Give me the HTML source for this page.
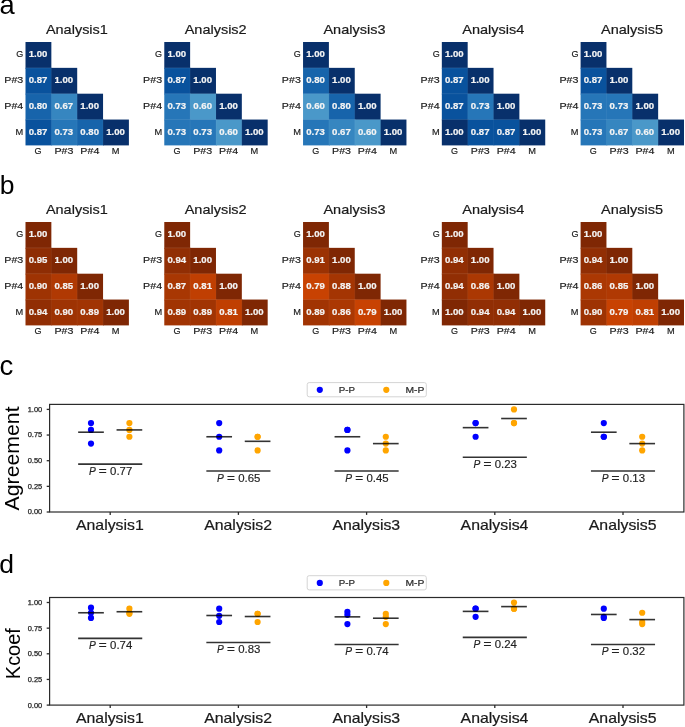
<!DOCTYPE html>
<html><head><meta charset="utf-8"><title>Figure</title>
<style>
html,body{margin:0;padding:0;background:#fff;}
body{width:685px;height:727px;overflow:hidden;}
svg{display:block;font-family:"Liberation Sans", sans-serif;will-change:transform;}
</style></head>
<body>
<svg width="685" height="727" viewBox="0 0 685 727">
<rect width="685" height="727" fill="#fff"/>
<text x="76.90" y="33.80" font-size="13.5" text-anchor="middle" fill="#1a1a1a" textLength="62.0" lengthAdjust="spacingAndGlyphs" stroke="#1a1a1a" stroke-width="0.2">Analysis1</text>
<rect x="25.50" y="42.00" width="25.85" height="26.65" fill="#08306b"/>
<rect x="25.50" y="67.85" width="26.65" height="26.65" fill="#09529d"/>
<rect x="51.35" y="67.85" width="25.85" height="26.65" fill="#08306b"/>
<rect x="25.50" y="93.70" width="26.65" height="26.65" fill="#1764ab"/>
<rect x="51.35" y="93.70" width="26.65" height="26.65" fill="#3686c0"/>
<rect x="77.20" y="93.70" width="25.85" height="26.65" fill="#08306b"/>
<rect x="25.50" y="119.55" width="26.65" height="25.85" fill="#09529d"/>
<rect x="51.35" y="119.55" width="26.65" height="25.85" fill="#2676b8"/>
<rect x="77.20" y="119.55" width="26.65" height="25.85" fill="#1764ab"/>
<rect x="103.05" y="119.55" width="25.85" height="25.85" fill="#08306b"/>
<line x1="25.50" y1="67.85" x2="51.35" y2="67.85" stroke="#fff" stroke-opacity="0.10" stroke-width="1"/>
<line x1="25.50" y1="93.70" x2="77.20" y2="93.70" stroke="#fff" stroke-opacity="0.10" stroke-width="1"/>
<line x1="25.50" y1="119.55" x2="103.05" y2="119.55" stroke="#fff" stroke-opacity="0.10" stroke-width="1"/>
<line x1="51.35" y1="67.85" x2="51.35" y2="145.40" stroke="#fff" stroke-opacity="0.05" stroke-width="1"/>
<line x1="77.20" y1="93.70" x2="77.20" y2="145.40" stroke="#fff" stroke-opacity="0.05" stroke-width="1"/>
<line x1="103.05" y1="119.55" x2="103.05" y2="145.40" stroke="#fff" stroke-opacity="0.05" stroke-width="1"/>
<text x="38.02" y="57.07" font-size="8.9" text-anchor="middle" fill="#f4f4f4" font-weight="bold" textLength="18.7" lengthAdjust="spacingAndGlyphs" stroke="#f4f4f4" stroke-width="0.2">1.00</text>
<text x="38.02" y="82.92" font-size="8.9" text-anchor="middle" fill="#f4f4f4" font-weight="bold" textLength="18.7" lengthAdjust="spacingAndGlyphs" stroke="#f4f4f4" stroke-width="0.2">0.87</text>
<text x="63.88" y="82.92" font-size="8.9" text-anchor="middle" fill="#f4f4f4" font-weight="bold" textLength="18.7" lengthAdjust="spacingAndGlyphs" stroke="#f4f4f4" stroke-width="0.2">1.00</text>
<text x="38.02" y="108.78" font-size="8.9" text-anchor="middle" fill="#f4f4f4" font-weight="bold" textLength="18.7" lengthAdjust="spacingAndGlyphs" stroke="#f4f4f4" stroke-width="0.2">0.80</text>
<text x="63.88" y="108.78" font-size="8.9" text-anchor="middle" fill="#f4f4f4" font-weight="bold" textLength="18.7" lengthAdjust="spacingAndGlyphs" stroke="#f4f4f4" stroke-width="0.2">0.67</text>
<text x="89.72" y="108.78" font-size="8.9" text-anchor="middle" fill="#f4f4f4" font-weight="bold" textLength="18.7" lengthAdjust="spacingAndGlyphs" stroke="#f4f4f4" stroke-width="0.2">1.00</text>
<text x="38.02" y="134.63" font-size="8.9" text-anchor="middle" fill="#f4f4f4" font-weight="bold" textLength="18.7" lengthAdjust="spacingAndGlyphs" stroke="#f4f4f4" stroke-width="0.2">0.87</text>
<text x="63.88" y="134.63" font-size="8.9" text-anchor="middle" fill="#f4f4f4" font-weight="bold" textLength="18.7" lengthAdjust="spacingAndGlyphs" stroke="#f4f4f4" stroke-width="0.2">0.73</text>
<text x="89.72" y="134.63" font-size="8.9" text-anchor="middle" fill="#f4f4f4" font-weight="bold" textLength="18.7" lengthAdjust="spacingAndGlyphs" stroke="#f4f4f4" stroke-width="0.2">0.80</text>
<text x="115.58" y="134.63" font-size="8.9" text-anchor="middle" fill="#f4f4f4" font-weight="bold" textLength="18.7" lengthAdjust="spacingAndGlyphs" stroke="#f4f4f4" stroke-width="0.2">1.00</text>
<text x="23.30" y="57.32" font-size="9.7" text-anchor="end" fill="#1a1a1a" textLength="7.0" lengthAdjust="spacingAndGlyphs" stroke="#1a1a1a" stroke-width="0.18">G</text>
<text x="23.30" y="83.17" font-size="9.7" text-anchor="end" fill="#1a1a1a" textLength="19.0" lengthAdjust="spacingAndGlyphs" stroke="#1a1a1a" stroke-width="0.18">P#3</text>
<text x="23.30" y="109.03" font-size="9.7" text-anchor="end" fill="#1a1a1a" textLength="19.0" lengthAdjust="spacingAndGlyphs" stroke="#1a1a1a" stroke-width="0.18">P#4</text>
<text x="23.30" y="134.88" font-size="9.7" text-anchor="end" fill="#1a1a1a" textLength="7.7" lengthAdjust="spacingAndGlyphs" stroke="#1a1a1a" stroke-width="0.18">M</text>
<text x="38.12" y="154.40" font-size="9.7" text-anchor="middle" fill="#1a1a1a" textLength="7.0" lengthAdjust="spacingAndGlyphs" stroke="#1a1a1a" stroke-width="0.18">G</text>
<text x="63.98" y="154.40" font-size="9.7" text-anchor="middle" fill="#1a1a1a" textLength="19.0" lengthAdjust="spacingAndGlyphs" stroke="#1a1a1a" stroke-width="0.18">P#3</text>
<text x="89.83" y="154.40" font-size="9.7" text-anchor="middle" fill="#1a1a1a" textLength="19.0" lengthAdjust="spacingAndGlyphs" stroke="#1a1a1a" stroke-width="0.18">P#4</text>
<text x="115.68" y="154.40" font-size="9.7" text-anchor="middle" fill="#1a1a1a" textLength="7.7" lengthAdjust="spacingAndGlyphs" stroke="#1a1a1a" stroke-width="0.18">M</text>
<text x="215.68" y="33.80" font-size="13.5" text-anchor="middle" fill="#1a1a1a" textLength="62.0" lengthAdjust="spacingAndGlyphs" stroke="#1a1a1a" stroke-width="0.2">Analysis2</text>
<rect x="164.28" y="42.00" width="25.85" height="26.65" fill="#08306b"/>
<rect x="164.28" y="67.85" width="26.65" height="26.65" fill="#09529d"/>
<rect x="190.12" y="67.85" width="25.85" height="26.65" fill="#08306b"/>
<rect x="164.28" y="93.70" width="26.65" height="26.65" fill="#2676b8"/>
<rect x="190.12" y="93.70" width="26.65" height="26.65" fill="#4a98c9"/>
<rect x="215.98" y="93.70" width="25.85" height="26.65" fill="#08306b"/>
<rect x="164.28" y="119.55" width="26.65" height="25.85" fill="#2676b8"/>
<rect x="190.12" y="119.55" width="26.65" height="25.85" fill="#2676b8"/>
<rect x="215.98" y="119.55" width="26.65" height="25.85" fill="#4a98c9"/>
<rect x="241.83" y="119.55" width="25.85" height="25.85" fill="#08306b"/>
<line x1="164.28" y1="67.85" x2="190.12" y2="67.85" stroke="#fff" stroke-opacity="0.10" stroke-width="1"/>
<line x1="164.28" y1="93.70" x2="215.98" y2="93.70" stroke="#fff" stroke-opacity="0.10" stroke-width="1"/>
<line x1="164.28" y1="119.55" x2="241.83" y2="119.55" stroke="#fff" stroke-opacity="0.10" stroke-width="1"/>
<line x1="190.12" y1="67.85" x2="190.12" y2="145.40" stroke="#fff" stroke-opacity="0.05" stroke-width="1"/>
<line x1="215.98" y1="93.70" x2="215.98" y2="145.40" stroke="#fff" stroke-opacity="0.05" stroke-width="1"/>
<line x1="241.83" y1="119.55" x2="241.83" y2="145.40" stroke="#fff" stroke-opacity="0.05" stroke-width="1"/>
<text x="176.80" y="57.07" font-size="8.9" text-anchor="middle" fill="#f4f4f4" font-weight="bold" textLength="18.7" lengthAdjust="spacingAndGlyphs" stroke="#f4f4f4" stroke-width="0.2">1.00</text>
<text x="176.80" y="82.92" font-size="8.9" text-anchor="middle" fill="#f4f4f4" font-weight="bold" textLength="18.7" lengthAdjust="spacingAndGlyphs" stroke="#f4f4f4" stroke-width="0.2">0.87</text>
<text x="202.65" y="82.92" font-size="8.9" text-anchor="middle" fill="#f4f4f4" font-weight="bold" textLength="18.7" lengthAdjust="spacingAndGlyphs" stroke="#f4f4f4" stroke-width="0.2">1.00</text>
<text x="176.80" y="108.78" font-size="8.9" text-anchor="middle" fill="#f4f4f4" font-weight="bold" textLength="18.7" lengthAdjust="spacingAndGlyphs" stroke="#f4f4f4" stroke-width="0.2">0.73</text>
<text x="202.65" y="108.78" font-size="8.9" text-anchor="middle" fill="#f4f4f4" font-weight="bold" textLength="18.7" lengthAdjust="spacingAndGlyphs" stroke="#f4f4f4" stroke-width="0.2">0.60</text>
<text x="228.50" y="108.78" font-size="8.9" text-anchor="middle" fill="#f4f4f4" font-weight="bold" textLength="18.7" lengthAdjust="spacingAndGlyphs" stroke="#f4f4f4" stroke-width="0.2">1.00</text>
<text x="176.80" y="134.63" font-size="8.9" text-anchor="middle" fill="#f4f4f4" font-weight="bold" textLength="18.7" lengthAdjust="spacingAndGlyphs" stroke="#f4f4f4" stroke-width="0.2">0.73</text>
<text x="202.65" y="134.63" font-size="8.9" text-anchor="middle" fill="#f4f4f4" font-weight="bold" textLength="18.7" lengthAdjust="spacingAndGlyphs" stroke="#f4f4f4" stroke-width="0.2">0.73</text>
<text x="228.50" y="134.63" font-size="8.9" text-anchor="middle" fill="#f4f4f4" font-weight="bold" textLength="18.7" lengthAdjust="spacingAndGlyphs" stroke="#f4f4f4" stroke-width="0.2">0.60</text>
<text x="254.35" y="134.63" font-size="8.9" text-anchor="middle" fill="#f4f4f4" font-weight="bold" textLength="18.7" lengthAdjust="spacingAndGlyphs" stroke="#f4f4f4" stroke-width="0.2">1.00</text>
<text x="162.08" y="57.32" font-size="9.7" text-anchor="end" fill="#1a1a1a" textLength="7.0" lengthAdjust="spacingAndGlyphs" stroke="#1a1a1a" stroke-width="0.18">G</text>
<text x="162.08" y="83.17" font-size="9.7" text-anchor="end" fill="#1a1a1a" textLength="19.0" lengthAdjust="spacingAndGlyphs" stroke="#1a1a1a" stroke-width="0.18">P#3</text>
<text x="162.08" y="109.03" font-size="9.7" text-anchor="end" fill="#1a1a1a" textLength="19.0" lengthAdjust="spacingAndGlyphs" stroke="#1a1a1a" stroke-width="0.18">P#4</text>
<text x="162.08" y="134.88" font-size="9.7" text-anchor="end" fill="#1a1a1a" textLength="7.7" lengthAdjust="spacingAndGlyphs" stroke="#1a1a1a" stroke-width="0.18">M</text>
<text x="176.90" y="154.40" font-size="9.7" text-anchor="middle" fill="#1a1a1a" textLength="7.0" lengthAdjust="spacingAndGlyphs" stroke="#1a1a1a" stroke-width="0.18">G</text>
<text x="202.75" y="154.40" font-size="9.7" text-anchor="middle" fill="#1a1a1a" textLength="19.0" lengthAdjust="spacingAndGlyphs" stroke="#1a1a1a" stroke-width="0.18">P#3</text>
<text x="228.60" y="154.40" font-size="9.7" text-anchor="middle" fill="#1a1a1a" textLength="19.0" lengthAdjust="spacingAndGlyphs" stroke="#1a1a1a" stroke-width="0.18">P#4</text>
<text x="254.45" y="154.40" font-size="9.7" text-anchor="middle" fill="#1a1a1a" textLength="7.7" lengthAdjust="spacingAndGlyphs" stroke="#1a1a1a" stroke-width="0.18">M</text>
<text x="354.45" y="33.80" font-size="13.5" text-anchor="middle" fill="#1a1a1a" textLength="62.0" lengthAdjust="spacingAndGlyphs" stroke="#1a1a1a" stroke-width="0.2">Analysis3</text>
<rect x="303.05" y="42.00" width="25.85" height="26.65" fill="#08306b"/>
<rect x="303.05" y="67.85" width="26.65" height="26.65" fill="#1764ab"/>
<rect x="328.90" y="67.85" width="25.85" height="26.65" fill="#08306b"/>
<rect x="303.05" y="93.70" width="26.65" height="26.65" fill="#4a98c9"/>
<rect x="328.90" y="93.70" width="26.65" height="26.65" fill="#1764ab"/>
<rect x="354.75" y="93.70" width="25.85" height="26.65" fill="#08306b"/>
<rect x="303.05" y="119.55" width="26.65" height="25.85" fill="#2676b8"/>
<rect x="328.90" y="119.55" width="26.65" height="25.85" fill="#3686c0"/>
<rect x="354.75" y="119.55" width="26.65" height="25.85" fill="#4a98c9"/>
<rect x="380.60" y="119.55" width="25.85" height="25.85" fill="#08306b"/>
<line x1="303.05" y1="67.85" x2="328.90" y2="67.85" stroke="#fff" stroke-opacity="0.10" stroke-width="1"/>
<line x1="303.05" y1="93.70" x2="354.75" y2="93.70" stroke="#fff" stroke-opacity="0.10" stroke-width="1"/>
<line x1="303.05" y1="119.55" x2="380.60" y2="119.55" stroke="#fff" stroke-opacity="0.10" stroke-width="1"/>
<line x1="328.90" y1="67.85" x2="328.90" y2="145.40" stroke="#fff" stroke-opacity="0.05" stroke-width="1"/>
<line x1="354.75" y1="93.70" x2="354.75" y2="145.40" stroke="#fff" stroke-opacity="0.05" stroke-width="1"/>
<line x1="380.60" y1="119.55" x2="380.60" y2="145.40" stroke="#fff" stroke-opacity="0.05" stroke-width="1"/>
<text x="315.58" y="57.07" font-size="8.9" text-anchor="middle" fill="#f4f4f4" font-weight="bold" textLength="18.7" lengthAdjust="spacingAndGlyphs" stroke="#f4f4f4" stroke-width="0.2">1.00</text>
<text x="315.58" y="82.92" font-size="8.9" text-anchor="middle" fill="#f4f4f4" font-weight="bold" textLength="18.7" lengthAdjust="spacingAndGlyphs" stroke="#f4f4f4" stroke-width="0.2">0.80</text>
<text x="341.43" y="82.92" font-size="8.9" text-anchor="middle" fill="#f4f4f4" font-weight="bold" textLength="18.7" lengthAdjust="spacingAndGlyphs" stroke="#f4f4f4" stroke-width="0.2">1.00</text>
<text x="315.58" y="108.78" font-size="8.9" text-anchor="middle" fill="#f4f4f4" font-weight="bold" textLength="18.7" lengthAdjust="spacingAndGlyphs" stroke="#f4f4f4" stroke-width="0.2">0.60</text>
<text x="341.43" y="108.78" font-size="8.9" text-anchor="middle" fill="#f4f4f4" font-weight="bold" textLength="18.7" lengthAdjust="spacingAndGlyphs" stroke="#f4f4f4" stroke-width="0.2">0.80</text>
<text x="367.28" y="108.78" font-size="8.9" text-anchor="middle" fill="#f4f4f4" font-weight="bold" textLength="18.7" lengthAdjust="spacingAndGlyphs" stroke="#f4f4f4" stroke-width="0.2">1.00</text>
<text x="315.58" y="134.63" font-size="8.9" text-anchor="middle" fill="#f4f4f4" font-weight="bold" textLength="18.7" lengthAdjust="spacingAndGlyphs" stroke="#f4f4f4" stroke-width="0.2">0.73</text>
<text x="341.43" y="134.63" font-size="8.9" text-anchor="middle" fill="#f4f4f4" font-weight="bold" textLength="18.7" lengthAdjust="spacingAndGlyphs" stroke="#f4f4f4" stroke-width="0.2">0.67</text>
<text x="367.28" y="134.63" font-size="8.9" text-anchor="middle" fill="#f4f4f4" font-weight="bold" textLength="18.7" lengthAdjust="spacingAndGlyphs" stroke="#f4f4f4" stroke-width="0.2">0.60</text>
<text x="393.13" y="134.63" font-size="8.9" text-anchor="middle" fill="#f4f4f4" font-weight="bold" textLength="18.7" lengthAdjust="spacingAndGlyphs" stroke="#f4f4f4" stroke-width="0.2">1.00</text>
<text x="300.85" y="57.32" font-size="9.7" text-anchor="end" fill="#1a1a1a" textLength="7.0" lengthAdjust="spacingAndGlyphs" stroke="#1a1a1a" stroke-width="0.18">G</text>
<text x="300.85" y="83.17" font-size="9.7" text-anchor="end" fill="#1a1a1a" textLength="19.0" lengthAdjust="spacingAndGlyphs" stroke="#1a1a1a" stroke-width="0.18">P#3</text>
<text x="300.85" y="109.03" font-size="9.7" text-anchor="end" fill="#1a1a1a" textLength="19.0" lengthAdjust="spacingAndGlyphs" stroke="#1a1a1a" stroke-width="0.18">P#4</text>
<text x="300.85" y="134.88" font-size="9.7" text-anchor="end" fill="#1a1a1a" textLength="7.7" lengthAdjust="spacingAndGlyphs" stroke="#1a1a1a" stroke-width="0.18">M</text>
<text x="315.68" y="154.40" font-size="9.7" text-anchor="middle" fill="#1a1a1a" textLength="7.0" lengthAdjust="spacingAndGlyphs" stroke="#1a1a1a" stroke-width="0.18">G</text>
<text x="341.53" y="154.40" font-size="9.7" text-anchor="middle" fill="#1a1a1a" textLength="19.0" lengthAdjust="spacingAndGlyphs" stroke="#1a1a1a" stroke-width="0.18">P#3</text>
<text x="367.38" y="154.40" font-size="9.7" text-anchor="middle" fill="#1a1a1a" textLength="19.0" lengthAdjust="spacingAndGlyphs" stroke="#1a1a1a" stroke-width="0.18">P#4</text>
<text x="393.23" y="154.40" font-size="9.7" text-anchor="middle" fill="#1a1a1a" textLength="7.7" lengthAdjust="spacingAndGlyphs" stroke="#1a1a1a" stroke-width="0.18">M</text>
<text x="493.23" y="33.80" font-size="13.5" text-anchor="middle" fill="#1a1a1a" textLength="62.0" lengthAdjust="spacingAndGlyphs" stroke="#1a1a1a" stroke-width="0.2">Analysis4</text>
<rect x="441.83" y="42.00" width="25.85" height="26.65" fill="#08306b"/>
<rect x="441.83" y="67.85" width="26.65" height="26.65" fill="#09529d"/>
<rect x="467.68" y="67.85" width="25.85" height="26.65" fill="#08306b"/>
<rect x="441.83" y="93.70" width="26.65" height="26.65" fill="#09529d"/>
<rect x="467.68" y="93.70" width="26.65" height="26.65" fill="#2676b8"/>
<rect x="493.53" y="93.70" width="25.85" height="26.65" fill="#08306b"/>
<rect x="441.83" y="119.55" width="26.65" height="25.85" fill="#08306b"/>
<rect x="467.68" y="119.55" width="26.65" height="25.85" fill="#09529d"/>
<rect x="493.53" y="119.55" width="26.65" height="25.85" fill="#09529d"/>
<rect x="519.38" y="119.55" width="25.85" height="25.85" fill="#08306b"/>
<line x1="441.83" y1="67.85" x2="467.68" y2="67.85" stroke="#fff" stroke-opacity="0.10" stroke-width="1"/>
<line x1="441.83" y1="93.70" x2="493.53" y2="93.70" stroke="#fff" stroke-opacity="0.10" stroke-width="1"/>
<line x1="441.83" y1="119.55" x2="519.38" y2="119.55" stroke="#fff" stroke-opacity="0.10" stroke-width="1"/>
<line x1="467.68" y1="67.85" x2="467.68" y2="145.40" stroke="#fff" stroke-opacity="0.05" stroke-width="1"/>
<line x1="493.53" y1="93.70" x2="493.53" y2="145.40" stroke="#fff" stroke-opacity="0.05" stroke-width="1"/>
<line x1="519.38" y1="119.55" x2="519.38" y2="145.40" stroke="#fff" stroke-opacity="0.05" stroke-width="1"/>
<text x="454.35" y="57.07" font-size="8.9" text-anchor="middle" fill="#f4f4f4" font-weight="bold" textLength="18.7" lengthAdjust="spacingAndGlyphs" stroke="#f4f4f4" stroke-width="0.2">1.00</text>
<text x="454.35" y="82.92" font-size="8.9" text-anchor="middle" fill="#f4f4f4" font-weight="bold" textLength="18.7" lengthAdjust="spacingAndGlyphs" stroke="#f4f4f4" stroke-width="0.2">0.87</text>
<text x="480.20" y="82.92" font-size="8.9" text-anchor="middle" fill="#f4f4f4" font-weight="bold" textLength="18.7" lengthAdjust="spacingAndGlyphs" stroke="#f4f4f4" stroke-width="0.2">1.00</text>
<text x="454.35" y="108.78" font-size="8.9" text-anchor="middle" fill="#f4f4f4" font-weight="bold" textLength="18.7" lengthAdjust="spacingAndGlyphs" stroke="#f4f4f4" stroke-width="0.2">0.87</text>
<text x="480.20" y="108.78" font-size="8.9" text-anchor="middle" fill="#f4f4f4" font-weight="bold" textLength="18.7" lengthAdjust="spacingAndGlyphs" stroke="#f4f4f4" stroke-width="0.2">0.73</text>
<text x="506.05" y="108.78" font-size="8.9" text-anchor="middle" fill="#f4f4f4" font-weight="bold" textLength="18.7" lengthAdjust="spacingAndGlyphs" stroke="#f4f4f4" stroke-width="0.2">1.00</text>
<text x="454.35" y="134.63" font-size="8.9" text-anchor="middle" fill="#f4f4f4" font-weight="bold" textLength="18.7" lengthAdjust="spacingAndGlyphs" stroke="#f4f4f4" stroke-width="0.2">1.00</text>
<text x="480.20" y="134.63" font-size="8.9" text-anchor="middle" fill="#f4f4f4" font-weight="bold" textLength="18.7" lengthAdjust="spacingAndGlyphs" stroke="#f4f4f4" stroke-width="0.2">0.87</text>
<text x="506.05" y="134.63" font-size="8.9" text-anchor="middle" fill="#f4f4f4" font-weight="bold" textLength="18.7" lengthAdjust="spacingAndGlyphs" stroke="#f4f4f4" stroke-width="0.2">0.87</text>
<text x="531.90" y="134.63" font-size="8.9" text-anchor="middle" fill="#f4f4f4" font-weight="bold" textLength="18.7" lengthAdjust="spacingAndGlyphs" stroke="#f4f4f4" stroke-width="0.2">1.00</text>
<text x="439.63" y="57.32" font-size="9.7" text-anchor="end" fill="#1a1a1a" textLength="7.0" lengthAdjust="spacingAndGlyphs" stroke="#1a1a1a" stroke-width="0.18">G</text>
<text x="439.63" y="83.17" font-size="9.7" text-anchor="end" fill="#1a1a1a" textLength="19.0" lengthAdjust="spacingAndGlyphs" stroke="#1a1a1a" stroke-width="0.18">P#3</text>
<text x="439.63" y="109.03" font-size="9.7" text-anchor="end" fill="#1a1a1a" textLength="19.0" lengthAdjust="spacingAndGlyphs" stroke="#1a1a1a" stroke-width="0.18">P#4</text>
<text x="439.63" y="134.88" font-size="9.7" text-anchor="end" fill="#1a1a1a" textLength="7.7" lengthAdjust="spacingAndGlyphs" stroke="#1a1a1a" stroke-width="0.18">M</text>
<text x="454.45" y="154.40" font-size="9.7" text-anchor="middle" fill="#1a1a1a" textLength="7.0" lengthAdjust="spacingAndGlyphs" stroke="#1a1a1a" stroke-width="0.18">G</text>
<text x="480.30" y="154.40" font-size="9.7" text-anchor="middle" fill="#1a1a1a" textLength="19.0" lengthAdjust="spacingAndGlyphs" stroke="#1a1a1a" stroke-width="0.18">P#3</text>
<text x="506.15" y="154.40" font-size="9.7" text-anchor="middle" fill="#1a1a1a" textLength="19.0" lengthAdjust="spacingAndGlyphs" stroke="#1a1a1a" stroke-width="0.18">P#4</text>
<text x="532.00" y="154.40" font-size="9.7" text-anchor="middle" fill="#1a1a1a" textLength="7.7" lengthAdjust="spacingAndGlyphs" stroke="#1a1a1a" stroke-width="0.18">M</text>
<text x="632.00" y="33.80" font-size="13.5" text-anchor="middle" fill="#1a1a1a" textLength="62.0" lengthAdjust="spacingAndGlyphs" stroke="#1a1a1a" stroke-width="0.2">Analysis5</text>
<rect x="580.60" y="42.00" width="25.85" height="26.65" fill="#08306b"/>
<rect x="580.60" y="67.85" width="26.65" height="26.65" fill="#09529d"/>
<rect x="606.45" y="67.85" width="25.85" height="26.65" fill="#08306b"/>
<rect x="580.60" y="93.70" width="26.65" height="26.65" fill="#2676b8"/>
<rect x="606.45" y="93.70" width="26.65" height="26.65" fill="#2676b8"/>
<rect x="632.30" y="93.70" width="25.85" height="26.65" fill="#08306b"/>
<rect x="580.60" y="119.55" width="26.65" height="25.85" fill="#2676b8"/>
<rect x="606.45" y="119.55" width="26.65" height="25.85" fill="#3686c0"/>
<rect x="632.30" y="119.55" width="26.65" height="25.85" fill="#4a98c9"/>
<rect x="658.15" y="119.55" width="25.85" height="25.85" fill="#08306b"/>
<line x1="580.60" y1="67.85" x2="606.45" y2="67.85" stroke="#fff" stroke-opacity="0.10" stroke-width="1"/>
<line x1="580.60" y1="93.70" x2="632.30" y2="93.70" stroke="#fff" stroke-opacity="0.10" stroke-width="1"/>
<line x1="580.60" y1="119.55" x2="658.15" y2="119.55" stroke="#fff" stroke-opacity="0.10" stroke-width="1"/>
<line x1="606.45" y1="67.85" x2="606.45" y2="145.40" stroke="#fff" stroke-opacity="0.05" stroke-width="1"/>
<line x1="632.30" y1="93.70" x2="632.30" y2="145.40" stroke="#fff" stroke-opacity="0.05" stroke-width="1"/>
<line x1="658.15" y1="119.55" x2="658.15" y2="145.40" stroke="#fff" stroke-opacity="0.05" stroke-width="1"/>
<text x="593.12" y="57.07" font-size="8.9" text-anchor="middle" fill="#f4f4f4" font-weight="bold" textLength="18.7" lengthAdjust="spacingAndGlyphs" stroke="#f4f4f4" stroke-width="0.2">1.00</text>
<text x="593.12" y="82.92" font-size="8.9" text-anchor="middle" fill="#f4f4f4" font-weight="bold" textLength="18.7" lengthAdjust="spacingAndGlyphs" stroke="#f4f4f4" stroke-width="0.2">0.87</text>
<text x="618.98" y="82.92" font-size="8.9" text-anchor="middle" fill="#f4f4f4" font-weight="bold" textLength="18.7" lengthAdjust="spacingAndGlyphs" stroke="#f4f4f4" stroke-width="0.2">1.00</text>
<text x="593.12" y="108.78" font-size="8.9" text-anchor="middle" fill="#f4f4f4" font-weight="bold" textLength="18.7" lengthAdjust="spacingAndGlyphs" stroke="#f4f4f4" stroke-width="0.2">0.73</text>
<text x="618.98" y="108.78" font-size="8.9" text-anchor="middle" fill="#f4f4f4" font-weight="bold" textLength="18.7" lengthAdjust="spacingAndGlyphs" stroke="#f4f4f4" stroke-width="0.2">0.73</text>
<text x="644.83" y="108.78" font-size="8.9" text-anchor="middle" fill="#f4f4f4" font-weight="bold" textLength="18.7" lengthAdjust="spacingAndGlyphs" stroke="#f4f4f4" stroke-width="0.2">1.00</text>
<text x="593.12" y="134.63" font-size="8.9" text-anchor="middle" fill="#f4f4f4" font-weight="bold" textLength="18.7" lengthAdjust="spacingAndGlyphs" stroke="#f4f4f4" stroke-width="0.2">0.73</text>
<text x="618.98" y="134.63" font-size="8.9" text-anchor="middle" fill="#f4f4f4" font-weight="bold" textLength="18.7" lengthAdjust="spacingAndGlyphs" stroke="#f4f4f4" stroke-width="0.2">0.67</text>
<text x="644.83" y="134.63" font-size="8.9" text-anchor="middle" fill="#f4f4f4" font-weight="bold" textLength="18.7" lengthAdjust="spacingAndGlyphs" stroke="#f4f4f4" stroke-width="0.2">0.60</text>
<text x="670.68" y="134.63" font-size="8.9" text-anchor="middle" fill="#f4f4f4" font-weight="bold" textLength="18.7" lengthAdjust="spacingAndGlyphs" stroke="#f4f4f4" stroke-width="0.2">1.00</text>
<text x="578.40" y="57.32" font-size="9.7" text-anchor="end" fill="#1a1a1a" textLength="7.0" lengthAdjust="spacingAndGlyphs" stroke="#1a1a1a" stroke-width="0.18">G</text>
<text x="578.40" y="83.17" font-size="9.7" text-anchor="end" fill="#1a1a1a" textLength="19.0" lengthAdjust="spacingAndGlyphs" stroke="#1a1a1a" stroke-width="0.18">P#3</text>
<text x="578.40" y="109.03" font-size="9.7" text-anchor="end" fill="#1a1a1a" textLength="19.0" lengthAdjust="spacingAndGlyphs" stroke="#1a1a1a" stroke-width="0.18">P#4</text>
<text x="578.40" y="134.88" font-size="9.7" text-anchor="end" fill="#1a1a1a" textLength="7.7" lengthAdjust="spacingAndGlyphs" stroke="#1a1a1a" stroke-width="0.18">M</text>
<text x="593.23" y="154.40" font-size="9.7" text-anchor="middle" fill="#1a1a1a" textLength="7.0" lengthAdjust="spacingAndGlyphs" stroke="#1a1a1a" stroke-width="0.18">G</text>
<text x="619.08" y="154.40" font-size="9.7" text-anchor="middle" fill="#1a1a1a" textLength="19.0" lengthAdjust="spacingAndGlyphs" stroke="#1a1a1a" stroke-width="0.18">P#3</text>
<text x="644.93" y="154.40" font-size="9.7" text-anchor="middle" fill="#1a1a1a" textLength="19.0" lengthAdjust="spacingAndGlyphs" stroke="#1a1a1a" stroke-width="0.18">P#4</text>
<text x="670.78" y="154.40" font-size="9.7" text-anchor="middle" fill="#1a1a1a" textLength="7.7" lengthAdjust="spacingAndGlyphs" stroke="#1a1a1a" stroke-width="0.18">M</text>
<text x="76.90" y="213.80" font-size="13.5" text-anchor="middle" fill="#1a1a1a" textLength="62.0" lengthAdjust="spacingAndGlyphs" stroke="#1a1a1a" stroke-width="0.2">Analysis1</text>
<rect x="25.50" y="222.00" width="25.85" height="26.65" fill="#7f2704"/>
<rect x="25.50" y="247.85" width="26.65" height="26.65" fill="#8e2d04"/>
<rect x="51.35" y="247.85" width="25.85" height="26.65" fill="#7f2704"/>
<rect x="25.50" y="273.70" width="26.65" height="26.65" fill="#9e3303"/>
<rect x="51.35" y="273.70" width="26.65" height="26.65" fill="#b03903"/>
<rect x="77.20" y="273.70" width="25.85" height="26.65" fill="#7f2704"/>
<rect x="25.50" y="299.55" width="26.65" height="25.85" fill="#912e04"/>
<rect x="51.35" y="299.55" width="26.65" height="25.85" fill="#9e3303"/>
<rect x="77.20" y="299.55" width="26.65" height="25.85" fill="#a13403"/>
<rect x="103.05" y="299.55" width="25.85" height="25.85" fill="#7f2704"/>
<line x1="25.50" y1="247.85" x2="51.35" y2="247.85" stroke="#fff" stroke-opacity="0.10" stroke-width="1"/>
<line x1="25.50" y1="273.70" x2="77.20" y2="273.70" stroke="#fff" stroke-opacity="0.10" stroke-width="1"/>
<line x1="25.50" y1="299.55" x2="103.05" y2="299.55" stroke="#fff" stroke-opacity="0.10" stroke-width="1"/>
<line x1="51.35" y1="247.85" x2="51.35" y2="325.40" stroke="#fff" stroke-opacity="0.05" stroke-width="1"/>
<line x1="77.20" y1="273.70" x2="77.20" y2="325.40" stroke="#fff" stroke-opacity="0.05" stroke-width="1"/>
<line x1="103.05" y1="299.55" x2="103.05" y2="325.40" stroke="#fff" stroke-opacity="0.05" stroke-width="1"/>
<text x="38.02" y="237.08" font-size="8.9" text-anchor="middle" fill="#f4f4f4" font-weight="bold" textLength="18.7" lengthAdjust="spacingAndGlyphs" stroke="#f4f4f4" stroke-width="0.2">1.00</text>
<text x="38.02" y="262.92" font-size="8.9" text-anchor="middle" fill="#f4f4f4" font-weight="bold" textLength="18.7" lengthAdjust="spacingAndGlyphs" stroke="#f4f4f4" stroke-width="0.2">0.95</text>
<text x="63.88" y="262.92" font-size="8.9" text-anchor="middle" fill="#f4f4f4" font-weight="bold" textLength="18.7" lengthAdjust="spacingAndGlyphs" stroke="#f4f4f4" stroke-width="0.2">1.00</text>
<text x="38.02" y="288.77" font-size="8.9" text-anchor="middle" fill="#f4f4f4" font-weight="bold" textLength="18.7" lengthAdjust="spacingAndGlyphs" stroke="#f4f4f4" stroke-width="0.2">0.90</text>
<text x="63.88" y="288.77" font-size="8.9" text-anchor="middle" fill="#f4f4f4" font-weight="bold" textLength="18.7" lengthAdjust="spacingAndGlyphs" stroke="#f4f4f4" stroke-width="0.2">0.85</text>
<text x="89.72" y="288.77" font-size="8.9" text-anchor="middle" fill="#f4f4f4" font-weight="bold" textLength="18.7" lengthAdjust="spacingAndGlyphs" stroke="#f4f4f4" stroke-width="0.2">1.00</text>
<text x="38.02" y="314.62" font-size="8.9" text-anchor="middle" fill="#f4f4f4" font-weight="bold" textLength="18.7" lengthAdjust="spacingAndGlyphs" stroke="#f4f4f4" stroke-width="0.2">0.94</text>
<text x="63.88" y="314.62" font-size="8.9" text-anchor="middle" fill="#f4f4f4" font-weight="bold" textLength="18.7" lengthAdjust="spacingAndGlyphs" stroke="#f4f4f4" stroke-width="0.2">0.90</text>
<text x="89.72" y="314.62" font-size="8.9" text-anchor="middle" fill="#f4f4f4" font-weight="bold" textLength="18.7" lengthAdjust="spacingAndGlyphs" stroke="#f4f4f4" stroke-width="0.2">0.89</text>
<text x="115.58" y="314.62" font-size="8.9" text-anchor="middle" fill="#f4f4f4" font-weight="bold" textLength="18.7" lengthAdjust="spacingAndGlyphs" stroke="#f4f4f4" stroke-width="0.2">1.00</text>
<text x="23.30" y="237.33" font-size="9.7" text-anchor="end" fill="#1a1a1a" textLength="7.0" lengthAdjust="spacingAndGlyphs" stroke="#1a1a1a" stroke-width="0.18">G</text>
<text x="23.30" y="263.17" font-size="9.7" text-anchor="end" fill="#1a1a1a" textLength="19.0" lengthAdjust="spacingAndGlyphs" stroke="#1a1a1a" stroke-width="0.18">P#3</text>
<text x="23.30" y="289.02" font-size="9.7" text-anchor="end" fill="#1a1a1a" textLength="19.0" lengthAdjust="spacingAndGlyphs" stroke="#1a1a1a" stroke-width="0.18">P#4</text>
<text x="23.30" y="314.88" font-size="9.7" text-anchor="end" fill="#1a1a1a" textLength="7.7" lengthAdjust="spacingAndGlyphs" stroke="#1a1a1a" stroke-width="0.18">M</text>
<text x="38.12" y="334.40" font-size="9.7" text-anchor="middle" fill="#1a1a1a" textLength="7.0" lengthAdjust="spacingAndGlyphs" stroke="#1a1a1a" stroke-width="0.18">G</text>
<text x="63.98" y="334.40" font-size="9.7" text-anchor="middle" fill="#1a1a1a" textLength="19.0" lengthAdjust="spacingAndGlyphs" stroke="#1a1a1a" stroke-width="0.18">P#3</text>
<text x="89.83" y="334.40" font-size="9.7" text-anchor="middle" fill="#1a1a1a" textLength="19.0" lengthAdjust="spacingAndGlyphs" stroke="#1a1a1a" stroke-width="0.18">P#4</text>
<text x="115.68" y="334.40" font-size="9.7" text-anchor="middle" fill="#1a1a1a" textLength="7.7" lengthAdjust="spacingAndGlyphs" stroke="#1a1a1a" stroke-width="0.18">M</text>
<text x="215.68" y="213.80" font-size="13.5" text-anchor="middle" fill="#1a1a1a" textLength="62.0" lengthAdjust="spacingAndGlyphs" stroke="#1a1a1a" stroke-width="0.2">Analysis2</text>
<rect x="164.28" y="222.00" width="25.85" height="26.65" fill="#7f2704"/>
<rect x="164.28" y="247.85" width="26.65" height="26.65" fill="#912e04"/>
<rect x="190.12" y="247.85" width="25.85" height="26.65" fill="#7f2704"/>
<rect x="164.28" y="273.70" width="26.65" height="26.65" fill="#a83703"/>
<rect x="190.12" y="273.70" width="26.65" height="26.65" fill="#c03f02"/>
<rect x="215.98" y="273.70" width="25.85" height="26.65" fill="#7f2704"/>
<rect x="164.28" y="299.55" width="26.65" height="25.85" fill="#a13403"/>
<rect x="190.12" y="299.55" width="26.65" height="25.85" fill="#a13403"/>
<rect x="215.98" y="299.55" width="26.65" height="25.85" fill="#c03f02"/>
<rect x="241.83" y="299.55" width="25.85" height="25.85" fill="#7f2704"/>
<line x1="164.28" y1="247.85" x2="190.12" y2="247.85" stroke="#fff" stroke-opacity="0.10" stroke-width="1"/>
<line x1="164.28" y1="273.70" x2="215.98" y2="273.70" stroke="#fff" stroke-opacity="0.10" stroke-width="1"/>
<line x1="164.28" y1="299.55" x2="241.83" y2="299.55" stroke="#fff" stroke-opacity="0.10" stroke-width="1"/>
<line x1="190.12" y1="247.85" x2="190.12" y2="325.40" stroke="#fff" stroke-opacity="0.05" stroke-width="1"/>
<line x1="215.98" y1="273.70" x2="215.98" y2="325.40" stroke="#fff" stroke-opacity="0.05" stroke-width="1"/>
<line x1="241.83" y1="299.55" x2="241.83" y2="325.40" stroke="#fff" stroke-opacity="0.05" stroke-width="1"/>
<text x="176.80" y="237.08" font-size="8.9" text-anchor="middle" fill="#f4f4f4" font-weight="bold" textLength="18.7" lengthAdjust="spacingAndGlyphs" stroke="#f4f4f4" stroke-width="0.2">1.00</text>
<text x="176.80" y="262.92" font-size="8.9" text-anchor="middle" fill="#f4f4f4" font-weight="bold" textLength="18.7" lengthAdjust="spacingAndGlyphs" stroke="#f4f4f4" stroke-width="0.2">0.94</text>
<text x="202.65" y="262.92" font-size="8.9" text-anchor="middle" fill="#f4f4f4" font-weight="bold" textLength="18.7" lengthAdjust="spacingAndGlyphs" stroke="#f4f4f4" stroke-width="0.2">1.00</text>
<text x="176.80" y="288.77" font-size="8.9" text-anchor="middle" fill="#f4f4f4" font-weight="bold" textLength="18.7" lengthAdjust="spacingAndGlyphs" stroke="#f4f4f4" stroke-width="0.2">0.87</text>
<text x="202.65" y="288.77" font-size="8.9" text-anchor="middle" fill="#f4f4f4" font-weight="bold" textLength="18.7" lengthAdjust="spacingAndGlyphs" stroke="#f4f4f4" stroke-width="0.2">0.81</text>
<text x="228.50" y="288.77" font-size="8.9" text-anchor="middle" fill="#f4f4f4" font-weight="bold" textLength="18.7" lengthAdjust="spacingAndGlyphs" stroke="#f4f4f4" stroke-width="0.2">1.00</text>
<text x="176.80" y="314.62" font-size="8.9" text-anchor="middle" fill="#f4f4f4" font-weight="bold" textLength="18.7" lengthAdjust="spacingAndGlyphs" stroke="#f4f4f4" stroke-width="0.2">0.89</text>
<text x="202.65" y="314.62" font-size="8.9" text-anchor="middle" fill="#f4f4f4" font-weight="bold" textLength="18.7" lengthAdjust="spacingAndGlyphs" stroke="#f4f4f4" stroke-width="0.2">0.89</text>
<text x="228.50" y="314.62" font-size="8.9" text-anchor="middle" fill="#f4f4f4" font-weight="bold" textLength="18.7" lengthAdjust="spacingAndGlyphs" stroke="#f4f4f4" stroke-width="0.2">0.81</text>
<text x="254.35" y="314.62" font-size="8.9" text-anchor="middle" fill="#f4f4f4" font-weight="bold" textLength="18.7" lengthAdjust="spacingAndGlyphs" stroke="#f4f4f4" stroke-width="0.2">1.00</text>
<text x="162.08" y="237.33" font-size="9.7" text-anchor="end" fill="#1a1a1a" textLength="7.0" lengthAdjust="spacingAndGlyphs" stroke="#1a1a1a" stroke-width="0.18">G</text>
<text x="162.08" y="263.17" font-size="9.7" text-anchor="end" fill="#1a1a1a" textLength="19.0" lengthAdjust="spacingAndGlyphs" stroke="#1a1a1a" stroke-width="0.18">P#3</text>
<text x="162.08" y="289.02" font-size="9.7" text-anchor="end" fill="#1a1a1a" textLength="19.0" lengthAdjust="spacingAndGlyphs" stroke="#1a1a1a" stroke-width="0.18">P#4</text>
<text x="162.08" y="314.88" font-size="9.7" text-anchor="end" fill="#1a1a1a" textLength="7.7" lengthAdjust="spacingAndGlyphs" stroke="#1a1a1a" stroke-width="0.18">M</text>
<text x="176.90" y="334.40" font-size="9.7" text-anchor="middle" fill="#1a1a1a" textLength="7.0" lengthAdjust="spacingAndGlyphs" stroke="#1a1a1a" stroke-width="0.18">G</text>
<text x="202.75" y="334.40" font-size="9.7" text-anchor="middle" fill="#1a1a1a" textLength="19.0" lengthAdjust="spacingAndGlyphs" stroke="#1a1a1a" stroke-width="0.18">P#3</text>
<text x="228.60" y="334.40" font-size="9.7" text-anchor="middle" fill="#1a1a1a" textLength="19.0" lengthAdjust="spacingAndGlyphs" stroke="#1a1a1a" stroke-width="0.18">P#4</text>
<text x="254.45" y="334.40" font-size="9.7" text-anchor="middle" fill="#1a1a1a" textLength="7.7" lengthAdjust="spacingAndGlyphs" stroke="#1a1a1a" stroke-width="0.18">M</text>
<text x="354.45" y="213.80" font-size="13.5" text-anchor="middle" fill="#1a1a1a" textLength="62.0" lengthAdjust="spacingAndGlyphs" stroke="#1a1a1a" stroke-width="0.2">Analysis3</text>
<rect x="303.05" y="222.00" width="25.85" height="26.65" fill="#7f2704"/>
<rect x="303.05" y="247.85" width="26.65" height="26.65" fill="#9b3203"/>
<rect x="328.90" y="247.85" width="25.85" height="26.65" fill="#7f2704"/>
<rect x="303.05" y="273.70" width="26.65" height="26.65" fill="#c84202"/>
<rect x="328.90" y="273.70" width="26.65" height="26.65" fill="#a43503"/>
<rect x="354.75" y="273.70" width="25.85" height="26.65" fill="#7f2704"/>
<rect x="303.05" y="299.55" width="26.65" height="25.85" fill="#a13403"/>
<rect x="328.90" y="299.55" width="26.65" height="25.85" fill="#ab3803"/>
<rect x="354.75" y="299.55" width="26.65" height="25.85" fill="#c84202"/>
<rect x="380.60" y="299.55" width="25.85" height="25.85" fill="#7f2704"/>
<line x1="303.05" y1="247.85" x2="328.90" y2="247.85" stroke="#fff" stroke-opacity="0.10" stroke-width="1"/>
<line x1="303.05" y1="273.70" x2="354.75" y2="273.70" stroke="#fff" stroke-opacity="0.10" stroke-width="1"/>
<line x1="303.05" y1="299.55" x2="380.60" y2="299.55" stroke="#fff" stroke-opacity="0.10" stroke-width="1"/>
<line x1="328.90" y1="247.85" x2="328.90" y2="325.40" stroke="#fff" stroke-opacity="0.05" stroke-width="1"/>
<line x1="354.75" y1="273.70" x2="354.75" y2="325.40" stroke="#fff" stroke-opacity="0.05" stroke-width="1"/>
<line x1="380.60" y1="299.55" x2="380.60" y2="325.40" stroke="#fff" stroke-opacity="0.05" stroke-width="1"/>
<text x="315.58" y="237.08" font-size="8.9" text-anchor="middle" fill="#f4f4f4" font-weight="bold" textLength="18.7" lengthAdjust="spacingAndGlyphs" stroke="#f4f4f4" stroke-width="0.2">1.00</text>
<text x="315.58" y="262.92" font-size="8.9" text-anchor="middle" fill="#f4f4f4" font-weight="bold" textLength="18.7" lengthAdjust="spacingAndGlyphs" stroke="#f4f4f4" stroke-width="0.2">0.91</text>
<text x="341.43" y="262.92" font-size="8.9" text-anchor="middle" fill="#f4f4f4" font-weight="bold" textLength="18.7" lengthAdjust="spacingAndGlyphs" stroke="#f4f4f4" stroke-width="0.2">1.00</text>
<text x="315.58" y="288.77" font-size="8.9" text-anchor="middle" fill="#f4f4f4" font-weight="bold" textLength="18.7" lengthAdjust="spacingAndGlyphs" stroke="#f4f4f4" stroke-width="0.2">0.79</text>
<text x="341.43" y="288.77" font-size="8.9" text-anchor="middle" fill="#f4f4f4" font-weight="bold" textLength="18.7" lengthAdjust="spacingAndGlyphs" stroke="#f4f4f4" stroke-width="0.2">0.88</text>
<text x="367.28" y="288.77" font-size="8.9" text-anchor="middle" fill="#f4f4f4" font-weight="bold" textLength="18.7" lengthAdjust="spacingAndGlyphs" stroke="#f4f4f4" stroke-width="0.2">1.00</text>
<text x="315.58" y="314.62" font-size="8.9" text-anchor="middle" fill="#f4f4f4" font-weight="bold" textLength="18.7" lengthAdjust="spacingAndGlyphs" stroke="#f4f4f4" stroke-width="0.2">0.89</text>
<text x="341.43" y="314.62" font-size="8.9" text-anchor="middle" fill="#f4f4f4" font-weight="bold" textLength="18.7" lengthAdjust="spacingAndGlyphs" stroke="#f4f4f4" stroke-width="0.2">0.86</text>
<text x="367.28" y="314.62" font-size="8.9" text-anchor="middle" fill="#f4f4f4" font-weight="bold" textLength="18.7" lengthAdjust="spacingAndGlyphs" stroke="#f4f4f4" stroke-width="0.2">0.79</text>
<text x="393.13" y="314.62" font-size="8.9" text-anchor="middle" fill="#f4f4f4" font-weight="bold" textLength="18.7" lengthAdjust="spacingAndGlyphs" stroke="#f4f4f4" stroke-width="0.2">1.00</text>
<text x="300.85" y="237.33" font-size="9.7" text-anchor="end" fill="#1a1a1a" textLength="7.0" lengthAdjust="spacingAndGlyphs" stroke="#1a1a1a" stroke-width="0.18">G</text>
<text x="300.85" y="263.17" font-size="9.7" text-anchor="end" fill="#1a1a1a" textLength="19.0" lengthAdjust="spacingAndGlyphs" stroke="#1a1a1a" stroke-width="0.18">P#3</text>
<text x="300.85" y="289.02" font-size="9.7" text-anchor="end" fill="#1a1a1a" textLength="19.0" lengthAdjust="spacingAndGlyphs" stroke="#1a1a1a" stroke-width="0.18">P#4</text>
<text x="300.85" y="314.88" font-size="9.7" text-anchor="end" fill="#1a1a1a" textLength="7.7" lengthAdjust="spacingAndGlyphs" stroke="#1a1a1a" stroke-width="0.18">M</text>
<text x="315.68" y="334.40" font-size="9.7" text-anchor="middle" fill="#1a1a1a" textLength="7.0" lengthAdjust="spacingAndGlyphs" stroke="#1a1a1a" stroke-width="0.18">G</text>
<text x="341.53" y="334.40" font-size="9.7" text-anchor="middle" fill="#1a1a1a" textLength="19.0" lengthAdjust="spacingAndGlyphs" stroke="#1a1a1a" stroke-width="0.18">P#3</text>
<text x="367.38" y="334.40" font-size="9.7" text-anchor="middle" fill="#1a1a1a" textLength="19.0" lengthAdjust="spacingAndGlyphs" stroke="#1a1a1a" stroke-width="0.18">P#4</text>
<text x="393.23" y="334.40" font-size="9.7" text-anchor="middle" fill="#1a1a1a" textLength="7.7" lengthAdjust="spacingAndGlyphs" stroke="#1a1a1a" stroke-width="0.18">M</text>
<text x="493.23" y="213.80" font-size="13.5" text-anchor="middle" fill="#1a1a1a" textLength="62.0" lengthAdjust="spacingAndGlyphs" stroke="#1a1a1a" stroke-width="0.2">Analysis4</text>
<rect x="441.83" y="222.00" width="25.85" height="26.65" fill="#7f2704"/>
<rect x="441.83" y="247.85" width="26.65" height="26.65" fill="#912e04"/>
<rect x="467.68" y="247.85" width="25.85" height="26.65" fill="#7f2704"/>
<rect x="441.83" y="273.70" width="26.65" height="26.65" fill="#912e04"/>
<rect x="467.68" y="273.70" width="26.65" height="26.65" fill="#ab3803"/>
<rect x="493.53" y="273.70" width="25.85" height="26.65" fill="#7f2704"/>
<rect x="441.83" y="299.55" width="26.65" height="25.85" fill="#7f2704"/>
<rect x="467.68" y="299.55" width="26.65" height="25.85" fill="#912e04"/>
<rect x="493.53" y="299.55" width="26.65" height="25.85" fill="#912e04"/>
<rect x="519.38" y="299.55" width="25.85" height="25.85" fill="#7f2704"/>
<line x1="441.83" y1="247.85" x2="467.68" y2="247.85" stroke="#fff" stroke-opacity="0.10" stroke-width="1"/>
<line x1="441.83" y1="273.70" x2="493.53" y2="273.70" stroke="#fff" stroke-opacity="0.10" stroke-width="1"/>
<line x1="441.83" y1="299.55" x2="519.38" y2="299.55" stroke="#fff" stroke-opacity="0.10" stroke-width="1"/>
<line x1="467.68" y1="247.85" x2="467.68" y2="325.40" stroke="#fff" stroke-opacity="0.05" stroke-width="1"/>
<line x1="493.53" y1="273.70" x2="493.53" y2="325.40" stroke="#fff" stroke-opacity="0.05" stroke-width="1"/>
<line x1="519.38" y1="299.55" x2="519.38" y2="325.40" stroke="#fff" stroke-opacity="0.05" stroke-width="1"/>
<text x="454.35" y="237.08" font-size="8.9" text-anchor="middle" fill="#f4f4f4" font-weight="bold" textLength="18.7" lengthAdjust="spacingAndGlyphs" stroke="#f4f4f4" stroke-width="0.2">1.00</text>
<text x="454.35" y="262.92" font-size="8.9" text-anchor="middle" fill="#f4f4f4" font-weight="bold" textLength="18.7" lengthAdjust="spacingAndGlyphs" stroke="#f4f4f4" stroke-width="0.2">0.94</text>
<text x="480.20" y="262.92" font-size="8.9" text-anchor="middle" fill="#f4f4f4" font-weight="bold" textLength="18.7" lengthAdjust="spacingAndGlyphs" stroke="#f4f4f4" stroke-width="0.2">1.00</text>
<text x="454.35" y="288.77" font-size="8.9" text-anchor="middle" fill="#f4f4f4" font-weight="bold" textLength="18.7" lengthAdjust="spacingAndGlyphs" stroke="#f4f4f4" stroke-width="0.2">0.94</text>
<text x="480.20" y="288.77" font-size="8.9" text-anchor="middle" fill="#f4f4f4" font-weight="bold" textLength="18.7" lengthAdjust="spacingAndGlyphs" stroke="#f4f4f4" stroke-width="0.2">0.86</text>
<text x="506.05" y="288.77" font-size="8.9" text-anchor="middle" fill="#f4f4f4" font-weight="bold" textLength="18.7" lengthAdjust="spacingAndGlyphs" stroke="#f4f4f4" stroke-width="0.2">1.00</text>
<text x="454.35" y="314.62" font-size="8.9" text-anchor="middle" fill="#f4f4f4" font-weight="bold" textLength="18.7" lengthAdjust="spacingAndGlyphs" stroke="#f4f4f4" stroke-width="0.2">1.00</text>
<text x="480.20" y="314.62" font-size="8.9" text-anchor="middle" fill="#f4f4f4" font-weight="bold" textLength="18.7" lengthAdjust="spacingAndGlyphs" stroke="#f4f4f4" stroke-width="0.2">0.94</text>
<text x="506.05" y="314.62" font-size="8.9" text-anchor="middle" fill="#f4f4f4" font-weight="bold" textLength="18.7" lengthAdjust="spacingAndGlyphs" stroke="#f4f4f4" stroke-width="0.2">0.94</text>
<text x="531.90" y="314.62" font-size="8.9" text-anchor="middle" fill="#f4f4f4" font-weight="bold" textLength="18.7" lengthAdjust="spacingAndGlyphs" stroke="#f4f4f4" stroke-width="0.2">1.00</text>
<text x="439.63" y="237.33" font-size="9.7" text-anchor="end" fill="#1a1a1a" textLength="7.0" lengthAdjust="spacingAndGlyphs" stroke="#1a1a1a" stroke-width="0.18">G</text>
<text x="439.63" y="263.17" font-size="9.7" text-anchor="end" fill="#1a1a1a" textLength="19.0" lengthAdjust="spacingAndGlyphs" stroke="#1a1a1a" stroke-width="0.18">P#3</text>
<text x="439.63" y="289.02" font-size="9.7" text-anchor="end" fill="#1a1a1a" textLength="19.0" lengthAdjust="spacingAndGlyphs" stroke="#1a1a1a" stroke-width="0.18">P#4</text>
<text x="439.63" y="314.88" font-size="9.7" text-anchor="end" fill="#1a1a1a" textLength="7.7" lengthAdjust="spacingAndGlyphs" stroke="#1a1a1a" stroke-width="0.18">M</text>
<text x="454.45" y="334.40" font-size="9.7" text-anchor="middle" fill="#1a1a1a" textLength="7.0" lengthAdjust="spacingAndGlyphs" stroke="#1a1a1a" stroke-width="0.18">G</text>
<text x="480.30" y="334.40" font-size="9.7" text-anchor="middle" fill="#1a1a1a" textLength="19.0" lengthAdjust="spacingAndGlyphs" stroke="#1a1a1a" stroke-width="0.18">P#3</text>
<text x="506.15" y="334.40" font-size="9.7" text-anchor="middle" fill="#1a1a1a" textLength="19.0" lengthAdjust="spacingAndGlyphs" stroke="#1a1a1a" stroke-width="0.18">P#4</text>
<text x="532.00" y="334.40" font-size="9.7" text-anchor="middle" fill="#1a1a1a" textLength="7.7" lengthAdjust="spacingAndGlyphs" stroke="#1a1a1a" stroke-width="0.18">M</text>
<text x="632.00" y="213.80" font-size="13.5" text-anchor="middle" fill="#1a1a1a" textLength="62.0" lengthAdjust="spacingAndGlyphs" stroke="#1a1a1a" stroke-width="0.2">Analysis5</text>
<rect x="580.60" y="222.00" width="25.85" height="26.65" fill="#7f2704"/>
<rect x="580.60" y="247.85" width="26.65" height="26.65" fill="#912e04"/>
<rect x="606.45" y="247.85" width="25.85" height="26.65" fill="#7f2704"/>
<rect x="580.60" y="273.70" width="26.65" height="26.65" fill="#ab3803"/>
<rect x="606.45" y="273.70" width="26.65" height="26.65" fill="#b03903"/>
<rect x="632.30" y="273.70" width="25.85" height="26.65" fill="#7f2704"/>
<rect x="580.60" y="299.55" width="26.65" height="25.85" fill="#9e3303"/>
<rect x="606.45" y="299.55" width="26.65" height="25.85" fill="#c84202"/>
<rect x="632.30" y="299.55" width="26.65" height="25.85" fill="#c03f02"/>
<rect x="658.15" y="299.55" width="25.85" height="25.85" fill="#7f2704"/>
<line x1="580.60" y1="247.85" x2="606.45" y2="247.85" stroke="#fff" stroke-opacity="0.10" stroke-width="1"/>
<line x1="580.60" y1="273.70" x2="632.30" y2="273.70" stroke="#fff" stroke-opacity="0.10" stroke-width="1"/>
<line x1="580.60" y1="299.55" x2="658.15" y2="299.55" stroke="#fff" stroke-opacity="0.10" stroke-width="1"/>
<line x1="606.45" y1="247.85" x2="606.45" y2="325.40" stroke="#fff" stroke-opacity="0.05" stroke-width="1"/>
<line x1="632.30" y1="273.70" x2="632.30" y2="325.40" stroke="#fff" stroke-opacity="0.05" stroke-width="1"/>
<line x1="658.15" y1="299.55" x2="658.15" y2="325.40" stroke="#fff" stroke-opacity="0.05" stroke-width="1"/>
<text x="593.12" y="237.08" font-size="8.9" text-anchor="middle" fill="#f4f4f4" font-weight="bold" textLength="18.7" lengthAdjust="spacingAndGlyphs" stroke="#f4f4f4" stroke-width="0.2">1.00</text>
<text x="593.12" y="262.92" font-size="8.9" text-anchor="middle" fill="#f4f4f4" font-weight="bold" textLength="18.7" lengthAdjust="spacingAndGlyphs" stroke="#f4f4f4" stroke-width="0.2">0.94</text>
<text x="618.98" y="262.92" font-size="8.9" text-anchor="middle" fill="#f4f4f4" font-weight="bold" textLength="18.7" lengthAdjust="spacingAndGlyphs" stroke="#f4f4f4" stroke-width="0.2">1.00</text>
<text x="593.12" y="288.77" font-size="8.9" text-anchor="middle" fill="#f4f4f4" font-weight="bold" textLength="18.7" lengthAdjust="spacingAndGlyphs" stroke="#f4f4f4" stroke-width="0.2">0.86</text>
<text x="618.98" y="288.77" font-size="8.9" text-anchor="middle" fill="#f4f4f4" font-weight="bold" textLength="18.7" lengthAdjust="spacingAndGlyphs" stroke="#f4f4f4" stroke-width="0.2">0.85</text>
<text x="644.83" y="288.77" font-size="8.9" text-anchor="middle" fill="#f4f4f4" font-weight="bold" textLength="18.7" lengthAdjust="spacingAndGlyphs" stroke="#f4f4f4" stroke-width="0.2">1.00</text>
<text x="593.12" y="314.62" font-size="8.9" text-anchor="middle" fill="#f4f4f4" font-weight="bold" textLength="18.7" lengthAdjust="spacingAndGlyphs" stroke="#f4f4f4" stroke-width="0.2">0.90</text>
<text x="618.98" y="314.62" font-size="8.9" text-anchor="middle" fill="#f4f4f4" font-weight="bold" textLength="18.7" lengthAdjust="spacingAndGlyphs" stroke="#f4f4f4" stroke-width="0.2">0.79</text>
<text x="644.83" y="314.62" font-size="8.9" text-anchor="middle" fill="#f4f4f4" font-weight="bold" textLength="18.7" lengthAdjust="spacingAndGlyphs" stroke="#f4f4f4" stroke-width="0.2">0.81</text>
<text x="670.68" y="314.62" font-size="8.9" text-anchor="middle" fill="#f4f4f4" font-weight="bold" textLength="18.7" lengthAdjust="spacingAndGlyphs" stroke="#f4f4f4" stroke-width="0.2">1.00</text>
<text x="578.40" y="237.33" font-size="9.7" text-anchor="end" fill="#1a1a1a" textLength="7.0" lengthAdjust="spacingAndGlyphs" stroke="#1a1a1a" stroke-width="0.18">G</text>
<text x="578.40" y="263.17" font-size="9.7" text-anchor="end" fill="#1a1a1a" textLength="19.0" lengthAdjust="spacingAndGlyphs" stroke="#1a1a1a" stroke-width="0.18">P#3</text>
<text x="578.40" y="289.02" font-size="9.7" text-anchor="end" fill="#1a1a1a" textLength="19.0" lengthAdjust="spacingAndGlyphs" stroke="#1a1a1a" stroke-width="0.18">P#4</text>
<text x="578.40" y="314.88" font-size="9.7" text-anchor="end" fill="#1a1a1a" textLength="7.7" lengthAdjust="spacingAndGlyphs" stroke="#1a1a1a" stroke-width="0.18">M</text>
<text x="593.23" y="334.40" font-size="9.7" text-anchor="middle" fill="#1a1a1a" textLength="7.0" lengthAdjust="spacingAndGlyphs" stroke="#1a1a1a" stroke-width="0.18">G</text>
<text x="619.08" y="334.40" font-size="9.7" text-anchor="middle" fill="#1a1a1a" textLength="19.0" lengthAdjust="spacingAndGlyphs" stroke="#1a1a1a" stroke-width="0.18">P#3</text>
<text x="644.93" y="334.40" font-size="9.7" text-anchor="middle" fill="#1a1a1a" textLength="19.0" lengthAdjust="spacingAndGlyphs" stroke="#1a1a1a" stroke-width="0.18">P#4</text>
<text x="670.78" y="334.40" font-size="9.7" text-anchor="middle" fill="#1a1a1a" textLength="7.7" lengthAdjust="spacingAndGlyphs" stroke="#1a1a1a" stroke-width="0.18">M</text>
<text x="-0.40" y="14.00" font-size="27.3" text-anchor="start" fill="#000">a</text>
<text x="-0.20" y="194.20" font-size="26.5" text-anchor="start" fill="#000">b</text>
<text x="-0.60" y="374.60" font-size="27.6" text-anchor="start" fill="#000">c</text>
<text x="-0.80" y="572.60" font-size="26.5" text-anchor="start" fill="#000">d</text>
<rect x="49.6" y="404.40" width="634.30" height="107.60" fill="none" stroke="#2b2b2b" stroke-width="1.2"/>
<line x1="46.7" y1="512.00" x2="49.6" y2="512.00" stroke="#2b2b2b" stroke-width="1.3"/>
<text x="42.20" y="514.40" font-size="6.6" text-anchor="end" fill="#262626" textLength="14.5" lengthAdjust="spacingAndGlyphs" stroke="#262626" stroke-width="0.25">0.00</text>
<line x1="46.7" y1="486.35" x2="49.6" y2="486.35" stroke="#2b2b2b" stroke-width="1.3"/>
<text x="42.20" y="488.75" font-size="6.6" text-anchor="end" fill="#262626" textLength="14.5" lengthAdjust="spacingAndGlyphs" stroke="#262626" stroke-width="0.25">0.25</text>
<line x1="46.7" y1="460.70" x2="49.6" y2="460.70" stroke="#2b2b2b" stroke-width="1.3"/>
<text x="42.20" y="463.10" font-size="6.6" text-anchor="end" fill="#262626" textLength="14.5" lengthAdjust="spacingAndGlyphs" stroke="#262626" stroke-width="0.25">0.50</text>
<line x1="46.7" y1="435.05" x2="49.6" y2="435.05" stroke="#2b2b2b" stroke-width="1.3"/>
<text x="42.20" y="437.45" font-size="6.6" text-anchor="end" fill="#262626" textLength="14.5" lengthAdjust="spacingAndGlyphs" stroke="#262626" stroke-width="0.25">0.75</text>
<line x1="46.7" y1="409.40" x2="49.6" y2="409.40" stroke="#2b2b2b" stroke-width="1.3"/>
<text x="42.20" y="411.80" font-size="6.6" text-anchor="end" fill="#262626" textLength="14.5" lengthAdjust="spacingAndGlyphs" stroke="#262626" stroke-width="0.25">1.00</text>
<line x1="110.20" y1="512.0" x2="110.20" y2="514.9" stroke="#2b2b2b" stroke-width="1.3"/>
<text x="109.90" y="530.00" font-size="14.2" text-anchor="middle" fill="#1a1a1a" textLength="67.8" lengthAdjust="spacingAndGlyphs" stroke="#1a1a1a" stroke-width="0.2">Analysis1</text>
<line x1="238.40" y1="512.0" x2="238.40" y2="514.9" stroke="#2b2b2b" stroke-width="1.3"/>
<text x="238.10" y="530.00" font-size="14.2" text-anchor="middle" fill="#1a1a1a" textLength="67.8" lengthAdjust="spacingAndGlyphs" stroke="#1a1a1a" stroke-width="0.2">Analysis2</text>
<line x1="366.60" y1="512.0" x2="366.60" y2="514.9" stroke="#2b2b2b" stroke-width="1.3"/>
<text x="366.30" y="530.00" font-size="14.2" text-anchor="middle" fill="#1a1a1a" textLength="67.8" lengthAdjust="spacingAndGlyphs" stroke="#1a1a1a" stroke-width="0.2">Analysis3</text>
<line x1="494.80" y1="512.0" x2="494.80" y2="514.9" stroke="#2b2b2b" stroke-width="1.3"/>
<text x="494.50" y="530.00" font-size="14.2" text-anchor="middle" fill="#1a1a1a" textLength="67.8" lengthAdjust="spacingAndGlyphs" stroke="#1a1a1a" stroke-width="0.2">Analysis4</text>
<line x1="623.00" y1="512.0" x2="623.00" y2="514.9" stroke="#2b2b2b" stroke-width="1.3"/>
<text x="622.70" y="530.00" font-size="14.2" text-anchor="middle" fill="#1a1a1a" textLength="67.8" lengthAdjust="spacingAndGlyphs" stroke="#1a1a1a" stroke-width="0.2">Analysis5</text>
<text transform="translate(19.1,458.40) rotate(-90)" font-size="19.3" text-anchor="middle" fill="#000" textLength="104.0" lengthAdjust="spacingAndGlyphs">Agreement</text>
<circle cx="91.00" cy="423.08" r="3.1" fill="#0000ff"/>
<circle cx="91.00" cy="429.92" r="3.1" fill="#0000ff"/>
<circle cx="91.00" cy="443.60" r="3.1" fill="#0000ff"/>
<circle cx="129.40" cy="423.08" r="3.1" fill="#ffa500"/>
<circle cx="129.40" cy="436.76" r="3.1" fill="#ffa500"/>
<circle cx="129.40" cy="429.92" r="3.1" fill="#ffa500"/>
<line x1="78.15" y1="432.20" x2="103.85" y2="432.20" stroke="#000" stroke-opacity="0.8" stroke-width="1.6"/>
<line x1="116.55" y1="429.92" x2="142.25" y2="429.92" stroke="#000" stroke-opacity="0.8" stroke-width="1.6"/>
<line x1="78.15" y1="464.12" x2="142.25" y2="464.12" stroke="#000" stroke-opacity="0.8" stroke-width="1.6"/>
<text x="92.30" y="474.72" font-size="10.2" text-anchor="middle" fill="#222" stroke="#222" stroke-width="0.15" font-style="italic">P</text>
<text x="102.75" y="474.72" font-size="10.2" text-anchor="middle" fill="#222" textLength="8.4" lengthAdjust="spacingAndGlyphs">=</text>
<text x="121.15" y="474.72" font-size="10.2" text-anchor="middle" fill="#222" stroke="#222" stroke-width="0.15" textLength="22.2" lengthAdjust="spacingAndGlyphs">0.77</text>
<circle cx="219.20" cy="423.08" r="3.1" fill="#0000ff"/>
<circle cx="219.20" cy="436.76" r="3.1" fill="#0000ff"/>
<circle cx="219.20" cy="450.44" r="3.1" fill="#0000ff"/>
<circle cx="257.60" cy="436.76" r="3.1" fill="#ffa500"/>
<circle cx="257.60" cy="436.76" r="3.1" fill="#ffa500"/>
<circle cx="257.60" cy="450.44" r="3.1" fill="#ffa500"/>
<line x1="206.35" y1="436.76" x2="232.05" y2="436.76" stroke="#000" stroke-opacity="0.8" stroke-width="1.6"/>
<line x1="244.75" y1="441.32" x2="270.45" y2="441.32" stroke="#000" stroke-opacity="0.8" stroke-width="1.6"/>
<line x1="206.35" y1="470.96" x2="270.45" y2="470.96" stroke="#000" stroke-opacity="0.8" stroke-width="1.6"/>
<text x="220.50" y="481.56" font-size="10.2" text-anchor="middle" fill="#222" stroke="#222" stroke-width="0.15" font-style="italic">P</text>
<text x="230.95" y="481.56" font-size="10.2" text-anchor="middle" fill="#222" textLength="8.4" lengthAdjust="spacingAndGlyphs">=</text>
<text x="249.35" y="481.56" font-size="10.2" text-anchor="middle" fill="#222" stroke="#222" stroke-width="0.15" textLength="22.2" lengthAdjust="spacingAndGlyphs">0.65</text>
<circle cx="347.40" cy="429.92" r="3.1" fill="#0000ff"/>
<circle cx="347.40" cy="450.44" r="3.1" fill="#0000ff"/>
<circle cx="347.40" cy="429.92" r="3.1" fill="#0000ff"/>
<circle cx="385.80" cy="436.76" r="3.1" fill="#ffa500"/>
<circle cx="385.80" cy="443.60" r="3.1" fill="#ffa500"/>
<circle cx="385.80" cy="450.44" r="3.1" fill="#ffa500"/>
<line x1="334.55" y1="436.76" x2="360.25" y2="436.76" stroke="#000" stroke-opacity="0.8" stroke-width="1.6"/>
<line x1="372.95" y1="443.60" x2="398.65" y2="443.60" stroke="#000" stroke-opacity="0.8" stroke-width="1.6"/>
<line x1="334.55" y1="470.96" x2="398.65" y2="470.96" stroke="#000" stroke-opacity="0.8" stroke-width="1.6"/>
<text x="348.70" y="481.56" font-size="10.2" text-anchor="middle" fill="#222" stroke="#222" stroke-width="0.15" font-style="italic">P</text>
<text x="359.15" y="481.56" font-size="10.2" text-anchor="middle" fill="#222" textLength="8.4" lengthAdjust="spacingAndGlyphs">=</text>
<text x="377.55" y="481.56" font-size="10.2" text-anchor="middle" fill="#222" stroke="#222" stroke-width="0.15" textLength="22.2" lengthAdjust="spacingAndGlyphs">0.45</text>
<circle cx="475.60" cy="423.08" r="3.1" fill="#0000ff"/>
<circle cx="475.60" cy="423.08" r="3.1" fill="#0000ff"/>
<circle cx="475.60" cy="436.76" r="3.1" fill="#0000ff"/>
<circle cx="514.00" cy="409.40" r="3.1" fill="#ffa500"/>
<circle cx="514.00" cy="423.08" r="3.1" fill="#ffa500"/>
<circle cx="514.00" cy="423.08" r="3.1" fill="#ffa500"/>
<line x1="462.75" y1="427.64" x2="488.45" y2="427.64" stroke="#000" stroke-opacity="0.8" stroke-width="1.6"/>
<line x1="501.15" y1="418.52" x2="526.85" y2="418.52" stroke="#000" stroke-opacity="0.8" stroke-width="1.6"/>
<line x1="462.75" y1="457.28" x2="526.85" y2="457.28" stroke="#000" stroke-opacity="0.8" stroke-width="1.6"/>
<text x="476.90" y="467.88" font-size="10.2" text-anchor="middle" fill="#222" stroke="#222" stroke-width="0.15" font-style="italic">P</text>
<text x="487.35" y="467.88" font-size="10.2" text-anchor="middle" fill="#222" textLength="8.4" lengthAdjust="spacingAndGlyphs">=</text>
<text x="505.75" y="467.88" font-size="10.2" text-anchor="middle" fill="#222" stroke="#222" stroke-width="0.15" textLength="22.2" lengthAdjust="spacingAndGlyphs">0.23</text>
<circle cx="603.80" cy="423.08" r="3.1" fill="#0000ff"/>
<circle cx="603.80" cy="436.76" r="3.1" fill="#0000ff"/>
<circle cx="603.80" cy="436.76" r="3.1" fill="#0000ff"/>
<circle cx="642.20" cy="436.76" r="3.1" fill="#ffa500"/>
<circle cx="642.20" cy="443.60" r="3.1" fill="#ffa500"/>
<circle cx="642.20" cy="450.44" r="3.1" fill="#ffa500"/>
<line x1="590.95" y1="432.20" x2="616.65" y2="432.20" stroke="#000" stroke-opacity="0.8" stroke-width="1.6"/>
<line x1="629.35" y1="443.60" x2="655.05" y2="443.60" stroke="#000" stroke-opacity="0.8" stroke-width="1.6"/>
<line x1="590.95" y1="470.96" x2="655.05" y2="470.96" stroke="#000" stroke-opacity="0.8" stroke-width="1.6"/>
<text x="605.10" y="481.56" font-size="10.2" text-anchor="middle" fill="#222" stroke="#222" stroke-width="0.15" font-style="italic">P</text>
<text x="615.55" y="481.56" font-size="10.2" text-anchor="middle" fill="#222" textLength="8.4" lengthAdjust="spacingAndGlyphs">=</text>
<text x="633.95" y="481.56" font-size="10.2" text-anchor="middle" fill="#222" stroke="#222" stroke-width="0.15" textLength="22.2" lengthAdjust="spacingAndGlyphs">0.13</text>
<rect x="307.2" y="382.60" width="119.1" height="14.2" rx="2" ry="2" fill="#fff" stroke="#d4d4d4" stroke-width="1"/>
<circle cx="319.8" cy="389.80" r="3.1" fill="#0000ff"/>
<circle cx="386.3" cy="389.80" r="3.1" fill="#ffa500"/>
<text x="338.80" y="393.10" font-size="9.9" text-anchor="start" fill="#2a2a2a" textLength="16.3" lengthAdjust="spacingAndGlyphs" stroke="#2a2a2a" stroke-width="0.22">P-P</text>
<text x="405.40" y="393.10" font-size="9.9" text-anchor="start" fill="#2a2a2a" textLength="18.9" lengthAdjust="spacingAndGlyphs" stroke="#2a2a2a" stroke-width="0.22">M-P</text>
<rect x="49.6" y="597.50" width="634.30" height="107.60" fill="none" stroke="#2b2b2b" stroke-width="1.2"/>
<line x1="46.7" y1="705.10" x2="49.6" y2="705.10" stroke="#2b2b2b" stroke-width="1.3"/>
<text x="42.20" y="707.50" font-size="6.6" text-anchor="end" fill="#262626" textLength="14.5" lengthAdjust="spacingAndGlyphs" stroke="#262626" stroke-width="0.25">0.00</text>
<line x1="46.7" y1="679.45" x2="49.6" y2="679.45" stroke="#2b2b2b" stroke-width="1.3"/>
<text x="42.20" y="681.85" font-size="6.6" text-anchor="end" fill="#262626" textLength="14.5" lengthAdjust="spacingAndGlyphs" stroke="#262626" stroke-width="0.25">0.25</text>
<line x1="46.7" y1="653.80" x2="49.6" y2="653.80" stroke="#2b2b2b" stroke-width="1.3"/>
<text x="42.20" y="656.20" font-size="6.6" text-anchor="end" fill="#262626" textLength="14.5" lengthAdjust="spacingAndGlyphs" stroke="#262626" stroke-width="0.25">0.50</text>
<line x1="46.7" y1="628.15" x2="49.6" y2="628.15" stroke="#2b2b2b" stroke-width="1.3"/>
<text x="42.20" y="630.55" font-size="6.6" text-anchor="end" fill="#262626" textLength="14.5" lengthAdjust="spacingAndGlyphs" stroke="#262626" stroke-width="0.25">0.75</text>
<line x1="46.7" y1="602.50" x2="49.6" y2="602.50" stroke="#2b2b2b" stroke-width="1.3"/>
<text x="42.20" y="604.90" font-size="6.6" text-anchor="end" fill="#262626" textLength="14.5" lengthAdjust="spacingAndGlyphs" stroke="#262626" stroke-width="0.25">1.00</text>
<line x1="110.20" y1="705.1" x2="110.20" y2="708.0" stroke="#2b2b2b" stroke-width="1.3"/>
<text x="109.90" y="723.10" font-size="14.2" text-anchor="middle" fill="#1a1a1a" textLength="67.8" lengthAdjust="spacingAndGlyphs" stroke="#1a1a1a" stroke-width="0.2">Analysis1</text>
<line x1="238.40" y1="705.1" x2="238.40" y2="708.0" stroke="#2b2b2b" stroke-width="1.3"/>
<text x="238.10" y="723.10" font-size="14.2" text-anchor="middle" fill="#1a1a1a" textLength="67.8" lengthAdjust="spacingAndGlyphs" stroke="#1a1a1a" stroke-width="0.2">Analysis2</text>
<line x1="366.60" y1="705.1" x2="366.60" y2="708.0" stroke="#2b2b2b" stroke-width="1.3"/>
<text x="366.30" y="723.10" font-size="14.2" text-anchor="middle" fill="#1a1a1a" textLength="67.8" lengthAdjust="spacingAndGlyphs" stroke="#1a1a1a" stroke-width="0.2">Analysis3</text>
<line x1="494.80" y1="705.1" x2="494.80" y2="708.0" stroke="#2b2b2b" stroke-width="1.3"/>
<text x="494.50" y="723.10" font-size="14.2" text-anchor="middle" fill="#1a1a1a" textLength="67.8" lengthAdjust="spacingAndGlyphs" stroke="#1a1a1a" stroke-width="0.2">Analysis4</text>
<line x1="623.00" y1="705.1" x2="623.00" y2="708.0" stroke="#2b2b2b" stroke-width="1.3"/>
<text x="622.70" y="723.10" font-size="14.2" text-anchor="middle" fill="#1a1a1a" textLength="67.8" lengthAdjust="spacingAndGlyphs" stroke="#1a1a1a" stroke-width="0.2">Analysis5</text>
<text transform="translate(20.2,653.70) rotate(-90)" font-size="19.3" text-anchor="middle" fill="#000" textLength="50.9" lengthAdjust="spacingAndGlyphs">Kcoef</text>
<circle cx="91.00" cy="607.63" r="3.1" fill="#0000ff"/>
<circle cx="91.00" cy="612.76" r="3.1" fill="#0000ff"/>
<circle cx="91.00" cy="617.89" r="3.1" fill="#0000ff"/>
<circle cx="129.40" cy="608.66" r="3.1" fill="#ffa500"/>
<circle cx="129.40" cy="612.76" r="3.1" fill="#ffa500"/>
<circle cx="129.40" cy="613.79" r="3.1" fill="#ffa500"/>
<line x1="78.15" y1="612.76" x2="103.85" y2="612.76" stroke="#000" stroke-opacity="0.8" stroke-width="1.6"/>
<line x1="116.55" y1="611.73" x2="142.25" y2="611.73" stroke="#000" stroke-opacity="0.8" stroke-width="1.6"/>
<line x1="78.15" y1="638.41" x2="142.25" y2="638.41" stroke="#000" stroke-opacity="0.8" stroke-width="1.6"/>
<text x="92.30" y="649.01" font-size="10.2" text-anchor="middle" fill="#222" stroke="#222" stroke-width="0.15" font-style="italic">P</text>
<text x="102.75" y="649.01" font-size="10.2" text-anchor="middle" fill="#222" textLength="8.4" lengthAdjust="spacingAndGlyphs">=</text>
<text x="121.15" y="649.01" font-size="10.2" text-anchor="middle" fill="#222" stroke="#222" stroke-width="0.15" textLength="22.2" lengthAdjust="spacingAndGlyphs">0.74</text>
<circle cx="219.20" cy="608.66" r="3.1" fill="#0000ff"/>
<circle cx="219.20" cy="615.84" r="3.1" fill="#0000ff"/>
<circle cx="219.20" cy="621.99" r="3.1" fill="#0000ff"/>
<circle cx="257.60" cy="613.79" r="3.1" fill="#ffa500"/>
<circle cx="257.60" cy="613.79" r="3.1" fill="#ffa500"/>
<circle cx="257.60" cy="621.99" r="3.1" fill="#ffa500"/>
<line x1="206.35" y1="615.50" x2="232.05" y2="615.50" stroke="#000" stroke-opacity="0.8" stroke-width="1.6"/>
<line x1="244.75" y1="616.52" x2="270.45" y2="616.52" stroke="#000" stroke-opacity="0.8" stroke-width="1.6"/>
<line x1="206.35" y1="642.51" x2="270.45" y2="642.51" stroke="#000" stroke-opacity="0.8" stroke-width="1.6"/>
<text x="220.50" y="653.11" font-size="10.2" text-anchor="middle" fill="#222" stroke="#222" stroke-width="0.15" font-style="italic">P</text>
<text x="230.95" y="653.11" font-size="10.2" text-anchor="middle" fill="#222" textLength="8.4" lengthAdjust="spacingAndGlyphs">=</text>
<text x="249.35" y="653.11" font-size="10.2" text-anchor="middle" fill="#222" stroke="#222" stroke-width="0.15" textLength="22.2" lengthAdjust="spacingAndGlyphs">0.83</text>
<circle cx="347.40" cy="611.73" r="3.1" fill="#0000ff"/>
<circle cx="347.40" cy="624.05" r="3.1" fill="#0000ff"/>
<circle cx="347.40" cy="614.81" r="3.1" fill="#0000ff"/>
<circle cx="385.80" cy="613.79" r="3.1" fill="#ffa500"/>
<circle cx="385.80" cy="616.86" r="3.1" fill="#ffa500"/>
<circle cx="385.80" cy="624.05" r="3.1" fill="#ffa500"/>
<line x1="334.55" y1="616.86" x2="360.25" y2="616.86" stroke="#000" stroke-opacity="0.8" stroke-width="1.6"/>
<line x1="372.95" y1="618.23" x2="398.65" y2="618.23" stroke="#000" stroke-opacity="0.8" stroke-width="1.6"/>
<line x1="334.55" y1="644.57" x2="398.65" y2="644.57" stroke="#000" stroke-opacity="0.8" stroke-width="1.6"/>
<text x="348.70" y="655.17" font-size="10.2" text-anchor="middle" fill="#222" stroke="#222" stroke-width="0.15" font-style="italic">P</text>
<text x="359.15" y="655.17" font-size="10.2" text-anchor="middle" fill="#222" textLength="8.4" lengthAdjust="spacingAndGlyphs">=</text>
<text x="377.55" y="655.17" font-size="10.2" text-anchor="middle" fill="#222" stroke="#222" stroke-width="0.15" textLength="22.2" lengthAdjust="spacingAndGlyphs">0.74</text>
<circle cx="475.60" cy="608.66" r="3.1" fill="#0000ff"/>
<circle cx="475.60" cy="608.66" r="3.1" fill="#0000ff"/>
<circle cx="475.60" cy="616.86" r="3.1" fill="#0000ff"/>
<circle cx="514.00" cy="602.50" r="3.1" fill="#ffa500"/>
<circle cx="514.00" cy="608.66" r="3.1" fill="#ffa500"/>
<circle cx="514.00" cy="608.66" r="3.1" fill="#ffa500"/>
<line x1="462.75" y1="611.39" x2="488.45" y2="611.39" stroke="#000" stroke-opacity="0.8" stroke-width="1.6"/>
<line x1="501.15" y1="606.60" x2="526.85" y2="606.60" stroke="#000" stroke-opacity="0.8" stroke-width="1.6"/>
<line x1="462.75" y1="637.38" x2="526.85" y2="637.38" stroke="#000" stroke-opacity="0.8" stroke-width="1.6"/>
<text x="476.90" y="647.98" font-size="10.2" text-anchor="middle" fill="#222" stroke="#222" stroke-width="0.15" font-style="italic">P</text>
<text x="487.35" y="647.98" font-size="10.2" text-anchor="middle" fill="#222" textLength="8.4" lengthAdjust="spacingAndGlyphs">=</text>
<text x="505.75" y="647.98" font-size="10.2" text-anchor="middle" fill="#222" stroke="#222" stroke-width="0.15" textLength="22.2" lengthAdjust="spacingAndGlyphs">0.24</text>
<circle cx="603.80" cy="608.66" r="3.1" fill="#0000ff"/>
<circle cx="603.80" cy="616.86" r="3.1" fill="#0000ff"/>
<circle cx="603.80" cy="617.89" r="3.1" fill="#0000ff"/>
<circle cx="642.20" cy="612.76" r="3.1" fill="#ffa500"/>
<circle cx="642.20" cy="624.05" r="3.1" fill="#ffa500"/>
<circle cx="642.20" cy="621.99" r="3.1" fill="#ffa500"/>
<line x1="590.95" y1="614.47" x2="616.65" y2="614.47" stroke="#000" stroke-opacity="0.8" stroke-width="1.6"/>
<line x1="629.35" y1="619.60" x2="655.05" y2="619.60" stroke="#000" stroke-opacity="0.8" stroke-width="1.6"/>
<line x1="590.95" y1="644.57" x2="655.05" y2="644.57" stroke="#000" stroke-opacity="0.8" stroke-width="1.6"/>
<text x="605.10" y="655.17" font-size="10.2" text-anchor="middle" fill="#222" stroke="#222" stroke-width="0.15" font-style="italic">P</text>
<text x="615.55" y="655.17" font-size="10.2" text-anchor="middle" fill="#222" textLength="8.4" lengthAdjust="spacingAndGlyphs">=</text>
<text x="633.95" y="655.17" font-size="10.2" text-anchor="middle" fill="#222" stroke="#222" stroke-width="0.15" textLength="22.2" lengthAdjust="spacingAndGlyphs">0.32</text>
<rect x="307.2" y="575.70" width="119.1" height="14.2" rx="2" ry="2" fill="#fff" stroke="#d4d4d4" stroke-width="1"/>
<circle cx="319.8" cy="582.90" r="3.1" fill="#0000ff"/>
<circle cx="386.3" cy="582.90" r="3.1" fill="#ffa500"/>
<text x="338.80" y="586.20" font-size="9.9" text-anchor="start" fill="#2a2a2a" textLength="16.3" lengthAdjust="spacingAndGlyphs" stroke="#2a2a2a" stroke-width="0.22">P-P</text>
<text x="405.40" y="586.20" font-size="9.9" text-anchor="start" fill="#2a2a2a" textLength="18.9" lengthAdjust="spacingAndGlyphs" stroke="#2a2a2a" stroke-width="0.22">M-P</text>
</svg>
</body></html>
